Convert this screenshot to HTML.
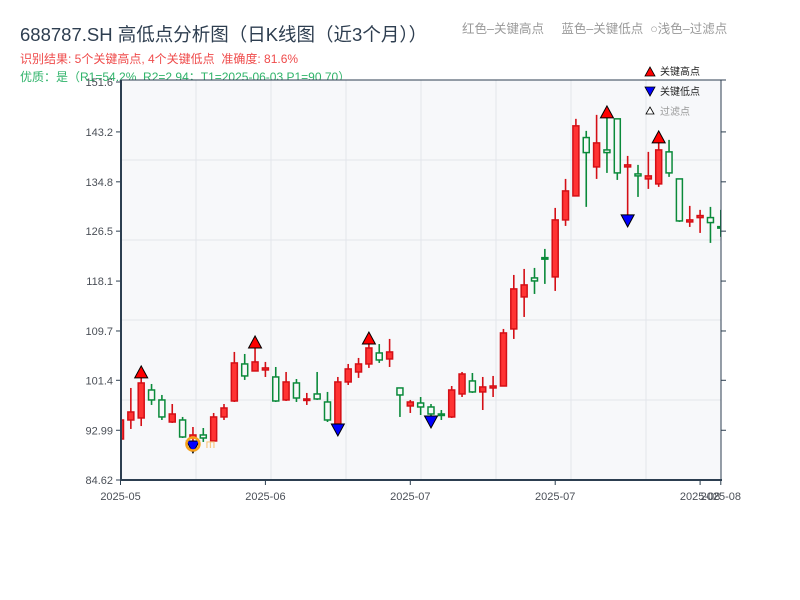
<!DOCTYPE html>
<html><head><meta charset="utf-8">
<style>
body{margin:0;background:#fff;}
svg{display:block;font-family:"Liberation Sans","Noto Sans CJK SC",sans-serif;}
</style></head>
<body>
<svg id="chart" width="800" height="600">
<text x="20" y="41" font-size="18.5" fill="#2e3e50">688787.SH 高低点分析图（日K线图（近3个月））</text>
<text x="20" y="63" font-size="12" fill="#ef4b4b" xml:space="preserve">识别结果: 5个关键高点, 4个关键低点  准确度: 81.6%</text>
<text x="20" y="81" font-size="12" fill="#2fb36a">优质：是（R1=54.2%, R2=2.94；T1=2025-06-03 P1=90.70）</text>
<text x="462" y="33" font-size="12.5" fill="#999" xml:space="preserve">红色–关键高点     蓝色–关键低点  ○浅色–过滤点</text>
<rect x="121" y="80" width="600" height="400" fill="#f7f8fa"/>
<g id="grid"></g>
<g id="candles"></g>
<g id="markers"></g>
<g id="axes"></g>
<g>
<polygon points="645,76 655,76 650,67" fill="#f00" stroke="#000" stroke-width="0.8"/>
<text x="660" y="75" font-size="10" fill="#222">关键高点</text>
<polygon points="645,87 655,87 650,96" fill="#00f" stroke="#000" stroke-width="0.8"/>
<text x="660" y="95" font-size="10" fill="#222">关键低点</text>
<polygon points="650,107 654,114 646,114" fill="#fff" stroke="#000" stroke-width="0.8"/>
<text x="660" y="115" font-size="10" fill="#999">过滤点</text>
</g>
</svg>
<script>
const opens=[91.52,94.72,95.06,99.77,98.09,94.38,94.72,91.69,92.2,91.19,95.23,97.92,104.15,102.97,103.14,101.96,98.09,100.95,98.09,99.1,97.75,94.05,101.12,102.8,104.15,106.0,104.99,100.11,97.08,97.58,96.91,95.73,95.23,99.1,101.29,99.44,100.11,100.44,110.04,115.43,118.63,122.04,118.8,128.39,132.43,142.25,137.31,140.17,145.4,137.31,136.13,135.29,134.45,139.84,135.29,128.05,128.78,128.78,127.26];
const closes=[94.72,96.07,100.95,98.09,95.23,95.73,91.86,92.2,91.69,95.23,96.74,104.32,102.13,104.49,103.48,97.92,101.12,98.42,98.26,98.26,94.72,101.12,103.31,104.15,106.84,104.82,106.17,98.93,97.75,96.91,95.73,95.48,99.77,102.46,99.44,100.28,100.44,109.37,116.78,117.45,118.12,121.83,128.39,133.27,144.22,139.72,141.35,139.72,136.3,137.65,135.8,135.8,140.17,136.3,128.22,128.39,129.12,127.94,127.04];
const highs=[94.72,100.11,101.8,100.78,98.93,97.41,95.23,93.54,93.37,95.9,97.41,106.17,105.83,106.84,104.49,103.64,102.8,101.62,99.27,102.8,99.44,101.96,104.15,105.16,107.5,107.5,108.36,100.11,98.09,98.59,97.41,96.4,100.44,102.8,102.63,101.96,102.13,110.04,119.13,120.14,120.31,123.51,130.41,135.29,145.4,143.37,146.07,145.56,145.4,139.16,137.65,139.84,141.35,141.86,135.29,130.75,130.08,130.58,130.08];
const lows=[91.52,93.21,93.7,97.25,94.72,94.22,91.69,91.19,91.02,91.02,94.72,97.75,101.46,102.97,101.96,97.75,97.92,97.75,97.25,98.09,94.38,94.05,100.61,101.8,103.48,104.32,103.64,95.23,95.9,95.56,95.39,94.72,95.06,98.59,99.27,96.4,98.59,100.44,108.36,112.06,115.93,117.62,116.44,127.38,132.43,130.58,135.29,136.3,135.12,129.23,132.26,133.61,133.95,135.63,128.05,127.21,126.2,124.52,125.53];
const highIdx=[2,13,24,47,52];
const lowIdx=[7,21,30,49];
const yTicks=[84.62,92.99,101.4,109.7,118.1,126.5,134.8,143.2,151.6];
const xTickIdx=[0,14,28,42,56,58];
const xTickLabels=["2025-05","2025-06","2025-07","2025-07","2025-08","2025-08"];

const NS="http://www.w3.org/2000/svg";
const X0=121,X1=721,Y0=480,Y1=80;
const yMin=84.62,yMax=151.6;
function ys(v){return 480-(v-yMin)/(yMax-yMin)*398;}
function xs(i){return 120.5+i*10.35;}
function mk(tag,attrs,parent){const e=document.createElementNS(NS,tag);for(const k in attrs)e.setAttribute(k,attrs[k]);parent.appendChild(e);return e;}

const grid=document.getElementById('grid');
for(let k=1;k<8;k++){const l=mk('line',{x1:X0+k*75,x2:X0+k*75,y1:Y1,y2:Y0,stroke:'#e3e6eb','stroke-width':1},grid);

}
for(let k=1;k<5;k++){const l=mk('line',{x1:X0,x2:X1,y1:Y1+k*80,y2:Y1+k*80,stroke:'#e3e6eb','stroke-width':1},grid);

}

const cg=document.getElementById('candles');
mk('clipPath',{id:'clip'},cg);
mk('rect',{x:X0,y:Y1,width:X1-X0,height:Y0-Y1},document.getElementById('clip'));
cg.setAttribute('clip-path','url(#clip)');
for(let i=0;i<opens.length;i++){
  const up=closes[i]>=opens[i];const col=up?'#d40f16':'#0a8a3a';
  const x=xs(i);
  const w=mk('line',{x1:x,x2:x,y1:ys(highs[i]),y2:ys(lows[i]),stroke:col,'stroke-width':1.6},cg);
  
  
  const top=ys(Math.max(opens[i],closes[i])),bot=ys(Math.min(opens[i],closes[i]));
  const b=mk('rect',{x:x-3,y:top,width:6,height:Math.max(1.5,bot-top),fill:up?'#ff3333':'#f7f8fa',stroke:col,'stroke-width':1.5},cg);
  
  
}

const mg=document.getElementById('markers');
highIdx.forEach(i=>{const x=xs(i),y=ys(highs[i]);
  const t=mk('polygon',{points:`${x-6.5},${y} ${x+6.5},${y} ${x},${y-12}`,fill:'#f00',stroke:'#000','stroke-width':1},mg);
  
  });
lowIdx.forEach(i=>{const x=xs(i),y=ys(lows[i]);
  const t=mk('polygon',{points:`${x-6.5},${y} ${x+6.5},${y} ${x},${y+12}`,fill:'#00f',stroke:'#000','stroke-width':1},mg);
  
  });
{const x=xs(lowIdx[0]),y=ys(lows[lowIdx[0]])+3;
 const c=mk('circle',{cx:x,cy:y,r:6.5,fill:'none',stroke:'#f5a01a','stroke-width':2.5},mg);
 
 
 const f=mk('path',{d:`M${x+14},${y+4} V${y-2} H${x+21} V${y+4} M${x+17.5},${y-2} V${y+4}`,stroke:'#f8c880','stroke-width':1.2,fill:'none'},mg);
 
 }

const ag=document.getElementById('axes');
mk('line',{x1:X0,x2:X0,y1:Y1,y2:Y0+1,stroke:'#2c3e50','stroke-width':2},ag);
mk('line',{x1:X0,x2:X1+1,y1:Y0,y2:Y0,stroke:'#2c3e50','stroke-width':2},ag);
mk('line',{x1:X1,x2:X1,y1:Y1,y2:Y0,stroke:'#2c3e50','stroke-width':1},ag);
mk('line',{x1:X0,x2:726,y1:Y1,y2:Y1,stroke:'#2c3e50','stroke-width':1},ag);
yTicks.forEach(v=>{const y=ys(v);
  mk('line',{x1:X0-5,x2:X0,y1:y,y2:y,stroke:'#2c3e50','stroke-width':1},ag);
  if(v>yMin&&v<yMax) mk('line',{x1:X1,x2:X1+5,y1:y,y2:y,stroke:'#2c3e50','stroke-width':1},ag);
  const t=mk('text',{x:X0-8,y:y+4,'text-anchor':'end','font-size':11,fill:'#4a4f57'},ag);
  t.textContent=(v===92.99||v===84.62)?v.toFixed(2):v.toFixed(1);
  
  });
xTickIdx.forEach((i,k)=>{const x=Math.min(xs(i),X1+3);
  mk('line',{x1:x,x2:x,y1:Y0,y2:Y0+5,stroke:'#2c3e50','stroke-width':1},ag);
  const t=mk('text',{x:x,y:Y0+20,'text-anchor':'middle','font-size':11,fill:'#4a4f57'},ag);
  t.textContent=xTickLabels[k];
  
  });
</script>
</body></html>
